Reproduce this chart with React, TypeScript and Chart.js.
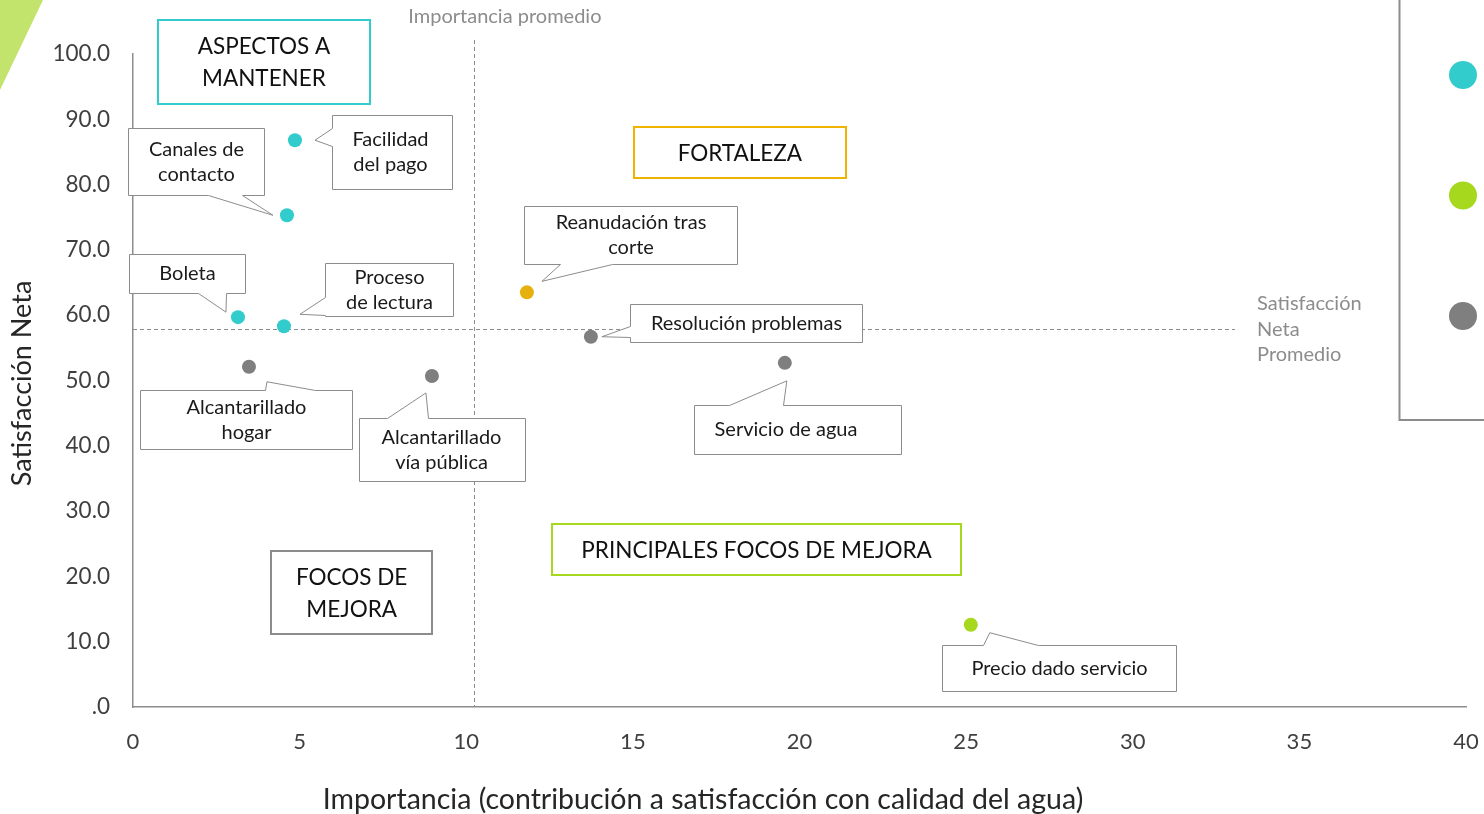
import React, { useEffect, useRef } from 'react';
import { Chart, registerables } from 'chart.js';

Chart.register(...registerables);

const FONT = 'Lato, "Open Sans", "DejaVu Sans", sans-serif';

// ---------- DATA ----------
const categories = [
  'Facilidad del pago',
  'Canales de contacto',
  'Boleta',
  'Proceso de lectura',
  'Reanudación tras corte',
  'Resolución problemas',
  'Servicio de agua',
  'Alcantarillado hogar',
  'Alcantarillado vía pública',
  'Precio dado servicio',
];
const importance = [4.86, 4.62, 3.15, 4.53, 11.82, 13.74, 19.56, 3.48, 8.97, 25.14];
const netSatisfaction = [86.8, 75.3, 59.7, 58.3, 63.5, 56.7, 52.7, 52.1, 50.7, 12.6];
const pointGroup = [0, 0, 0, 0, 1, 2, 2, 2, 2, 3];

const groupNames = ['Aspectos a mantener', 'Fortaleza', 'Focos de mejora', 'Principales focos de mejora'];
const groupColors = ['#33CCCC', '#E6B00E', '#7F7F7F', '#A6D81E'];
const legendGroups = [0, 3, 2];

const xTickValues = [0, 5, 10, 15, 20, 25, 30, 35, 40];
const yTickValues = [0, 10, 20, 30, 40, 50, 60, 70, 80, 90, 100];

const avgImportance = 10.23;
const avgSatisfaction = 57.9;

const quadrantLabels = [
  ['ASPECTOS A', 'MANTENER'],
  ['FORTALEZA'],
  ['PRINCIPALES FOCOS DE MEJORA'],
  ['FOCOS DE', 'MEJORA'],
];

// ---------- LAYOUT (annotation geometry, not data) ----------
type Side = 'left' | 'top' | 'bottom' | 'right';
const calloutLayout: { box: number[]; side: Side; base: number[]; tip: number[]; split: number; tdx: number }[] = [
  { box: [37, -25, 120, 74], side: 'left', base: [13, 31], tip: [20, 0], split: 1, tdx: -2 },
  { box: [-159, -87, 136, 67], side: 'bottom', base: [80, 114], tip: [-14, 0], split: 2, tdx: 0 },
  { box: [-109, -63, 116, 39], side: 'bottom', base: [69, 97], tip: [-12, -5], split: 0, tdx: 0 },
  { box: [41, -63, 128, 53], side: 'left', base: [34, 52], tip: [16, -12], split: 1, tdx: 0 },
  { box: [-3, -86, 213, 58], side: 'bottom', base: [36, 88], tip: [15, -11], split: 2, tdx: 0 },
  { box: [39, -33, 232, 38], side: 'left', base: [22, 33], tip: [11, 0], split: 0, tdx: 0 },
  { box: [-91, 42, 207, 49], side: 'top', base: [35, 89], tip: [2, 18], split: 0, tdx: -12 },
  { box: [-109, 23, 212, 59], side: 'top', base: [125, 175], tip: [18, 15], split: 1, tdx: 0 },
  { box: [-73, 42, 166, 63], side: 'top', base: [28, 69], tip: [-6, 17], split: 1, tdx: -1 },
  { box: [-29, 20, 234, 46], side: 'top', base: [41, 96], tip: [19, 8], split: 0, tdx: 0 },
];

const quadrantLayout = [
  { cx: 3.93, cy: 98.8, w: 212, h: 84, color: '#33CCCC' },
  { cx: 18.21, cy: 84.9, w: 212, h: 51, color: '#F0B400' },
  { cx: 18.71, cy: 24.1, w: 409, h: 51, color: '#A6D81E' },
  { cx: 6.56, cy: 17.5, w: 161, h: 83, color: '#8C8C8C' },
];

function calloutPath(
  ctx: CanvasRenderingContext2D,
  x: number, y: number, w: number, h: number,
  side: Side, a: number, b: number, tx: number, ty: number
) {
  ctx.beginPath();
  ctx.moveTo(x, y);
  if (side === 'top') { ctx.lineTo(x + a, y); ctx.lineTo(tx, ty); ctx.lineTo(x + b, y); }
  ctx.lineTo(x + w, y);
  if (side === 'right') { ctx.lineTo(x + w, y + a); ctx.lineTo(tx, ty); ctx.lineTo(x + w, y + b); }
  ctx.lineTo(x + w, y + h);
  if (side === 'bottom') { ctx.lineTo(x + b, y + h); ctx.lineTo(tx, ty); ctx.lineTo(x + a, y + h); }
  ctx.lineTo(x, y + h);
  if (side === 'left') { ctx.lineTo(x, y + b); ctx.lineTo(tx, ty); ctx.lineTo(x, y + a); }
  ctx.closePath();
}

const decorPlugin = {
  id: 'decor',
  beforeDatasetsDraw(chart: any) {
    const { ctx, scales, chartArea } = chart;
    const xs = scales.x, ys = scales.y;
    ctx.save();
    ctx.strokeStyle = '#8C8C8C';
    ctx.lineWidth = 1;
    ctx.setLineDash([4, 3]);
    const vx = Math.round(xs.getPixelForValue(avgImportance)) + 0.5;
    ctx.beginPath();
    ctx.moveTo(vx, chartArea.top - 14);
    ctx.lineTo(vx, chartArea.bottom);
    ctx.stroke();
    const hy = Math.round(ys.getPixelForValue(avgSatisfaction)) + 0.5;
    ctx.beginPath();
    ctx.moveTo(chartArea.left, hy);
    ctx.lineTo(xs.getPixelForValue(33.07), hy);
    ctx.stroke();
    ctx.restore();
  },
  afterDatasetsDraw(chart: any) {
    const { ctx, scales, chartArea, width } = chart;
    const xs = scales.x, ys = scales.y;
    ctx.save();

    // green corner triangle
    ctx.fillStyle = '#C2E46C';
    ctx.beginPath();
    ctx.moveTo(0, 0);
    ctx.lineTo(43, 0);
    ctx.lineTo(0, 90);
    ctx.closePath();
    ctx.fill();

    // average labels
    ctx.fillStyle = '#8C8C8C';
    ctx.font = `20px ${FONT}`;
    ctx.textBaseline = 'middle';
    ctx.textAlign = 'center';
    const vx = xs.getPixelForValue(avgImportance);
    ctx.fillText('Importancia promedio', vx + 31, 17);
    ctx.textAlign = 'left';
    const hy = ys.getPixelForValue(avgSatisfaction);
    const lx = xs.getPixelForValue(33.07) + 22;
    ['Satisfacción', 'Neta', 'Promedio'].forEach((t, i) => ctx.fillText(t, lx, hy - 25 + i * 25.5));

    // quadrant boxes
    quadrantLayout.forEach((q, i) => {
      const cx = xs.getPixelForValue(q.cx);
      const cy = ys.getPixelForValue(q.cy);
      const x = Math.round(cx - q.w / 2), y = Math.round(cy - q.h / 2);
      ctx.fillStyle = '#FFFFFF';
      ctx.fillRect(x, y, q.w, q.h);
      ctx.strokeStyle = q.color;
      ctx.lineWidth = 2;
      ctx.strokeRect(x, y, q.w, q.h);
      ctx.fillStyle = '#111111';
      ctx.font = `22.5px ${FONT}`;
      ctx.textAlign = 'center';
      ctx.textBaseline = 'middle';
      const lines = quadrantLabels[i];
      const lh = 32;
      lines.forEach((t, j) => ctx.fillText(t, cx, cy - ((lines.length - 1) * lh) / 2 + j * lh + 1));
    });

    // callouts
    categories.forEach((name, i) => {
      const L = calloutLayout[i];
      const px = xs.getPixelForValue(importance[i]);
      const py = ys.getPixelForValue(netSatisfaction[i]);
      const x = Math.round(px + L.box[0]) + 0.5;
      const y = Math.round(py + L.box[1]) + 0.5;
      const w = L.box[2], h = L.box[3];
      calloutPath(ctx, x, y, w, h, L.side, L.base[0], L.base[1], px + L.tip[0], py + L.tip[1]);
      ctx.fillStyle = '#FFFFFF';
      ctx.fill();
      ctx.strokeStyle = '#8C8C8C';
      ctx.lineWidth = 1;
      ctx.stroke();
      const words = name.split(' ');
      const lines = L.split > 0 ? [words.slice(0, L.split).join(' '), words.slice(L.split).join(' ')] : [name];
      ctx.fillStyle = '#1A1A1A';
      ctx.font = `20px ${FONT}`;
      ctx.textAlign = 'center';
      ctx.textBaseline = 'middle';
      const lh = 25;
      lines.forEach((t, j) =>
        ctx.fillText(t, x + w / 2 + L.tdx, y + h / 2 - ((lines.length - 1) * lh) / 2 + j * lh)
      );
    });

    // legend box (partially off-canvas)
    const bx = width - 84.5;
    ctx.strokeStyle = '#8C8C8C';
    ctx.lineWidth = 2;
    ctx.beginPath();
    ctx.moveTo(bx, 0);
    ctx.lineTo(bx, 420);
    ctx.lineTo(width + 5, 420);
    ctx.stroke();
    legendGroups.forEach((g, k) => {
      ctx.fillStyle = groupColors[g];
      ctx.beginPath();
      ctx.arc(width - 21, 75 + k * 120.5, 14, 0, Math.PI * 2);
      ctx.fill();
      ctx.fillStyle = '#404040';
      ctx.font = `19px ${FONT}`;
      ctx.textAlign = 'left';
      ctx.fillText(groupNames[g], width + 4, 75 + k * 120.5);
    });

    // axis titles
    ctx.fillStyle = '#262626';
    ctx.font = `28.5px ${FONT}`;
    ctx.textAlign = 'center';
    ctx.textBaseline = 'middle';
    ctx.fillText('Importancia (contribución a satisfacción con calidad del agua)', 703, 800, 770);
    ctx.save();
    ctx.translate(22, (chartArea.top + chartArea.bottom) / 2 + 3);
    ctx.rotate(-Math.PI / 2);
    ctx.font = `27px ${FONT}`;
    ctx.fillText('Satisfacción Neta', 0, 0, 214);
    ctx.restore();

    ctx.restore();
  },
};

export default function App() {
  const ref = useRef<HTMLCanvasElement | null>(null);
  useEffect(() => {
    document.body.style.margin = '0';
    const canvas = ref.current;
    if (!canvas) return;
    const datasets = groupNames.map((g, gi) => ({
      label: g,
      data: categories
        .map((_, i) => ({ x: importance[i], y: netSatisfaction[i], g: pointGroup[i] }))
        .filter((p) => p.g === gi)
        .map((p) => ({ x: p.x, y: p.y })),
      backgroundColor: groupColors[gi],
      borderColor: groupColors[gi],
      borderWidth: 0,
      pointRadius: 7,
      pointHoverRadius: 7,
    }));
    const chart = new Chart(canvas, {
      type: 'scatter',
      data: { datasets },
      options: {
        animation: false,
        responsive: false,
        devicePixelRatio: 1,
        layout: { padding: { top: 54, right: 18, bottom: 0, left: 0 } },
        plugins: { legend: { display: false }, tooltip: { enabled: false } },
        scales: {
          x: {
            type: 'linear',
            min: 0,
            max: 40,
            afterBuildTicks: (s: any) => { s.ticks = xTickValues.map((v) => ({ value: v })); },
            afterFit: (s: any) => { s.height = 107; s.paddingLeft = 0; s.paddingRight = 0; },
            grid: { display: true, color: 'rgba(0,0,0,0)', drawTicks: false },
            border: { display: true, color: '#8C8C8C', width: 1.5 },
            ticks: {
              padding: 22,
              color: '#3F3F3F',
              font: { family: FONT, size: 22 },
              maxRotation: 0,
              callback: (v: any) => String(v),
            },
          },
          y: {
            type: 'linear',
            min: 0,
            max: 100,
            afterBuildTicks: (s: any) => { s.ticks = yTickValues.map((v) => ({ value: v })); },
            afterFit: (s: any) => { s.width = 133; s.paddingTop = 0; s.paddingBottom = 0; },
            grid: { display: true, color: 'rgba(0,0,0,0)', drawTicks: false },
            border: { display: true, color: '#8C8C8C', width: 1.5 },
            ticks: {
              padding: 23,
              color: '#3F3F3F',
              font: { family: FONT, size: 22.5 },
              callback: (v: any) => (Number(v) === 0 ? '.0' : Number(v).toFixed(1)),
            },
          },
        },
      },
      plugins: [decorPlugin],
    } as any);
    return () => chart.destroy();
  }, []);
  return <canvas ref={ref} width={1484} height={814} style={{ display: 'block', width: 1484, height: 814 }} />;
}
